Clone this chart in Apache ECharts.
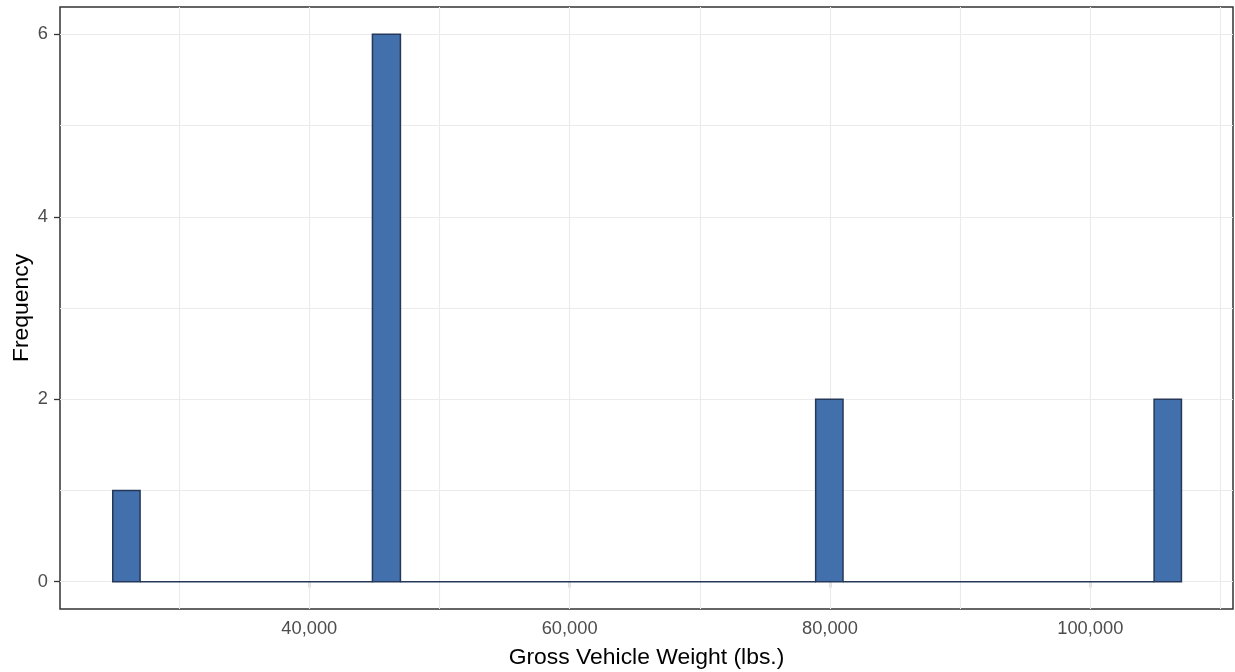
<!DOCTYPE html>
<html>
<head>
<meta charset="utf-8">
<script src="https://cdn.jsdelivr.net/npm/echarts@6/dist/echarts.min.js"></script>
<style>
  html, body { margin: 0; padding: 0; background: #ffffff; }
  #chart { width: 1235px; height: 672px; }
</style>
</head>
<body>
<div id="chart"></div>
<script>
// Histogram bins (lbs.) and frequencies
const binStart = [24900, 27000, 44850, 47000, 78900, 81000, 104900];
const binEnd   = [27000, 44850, 47000, 78900, 81000, 104900, 107000];
const counts   = [1, 0, 6, 0, 2, 0, 2];

// Tick labels and grid lines
const xTickValues = [40000, 60000, 80000, 100000];
const xGridValues = [30000, 40000, 50000, 60000, 70000, 80000, 90000, 100000, 110000];
const yTickValues = [0, 2, 4, 6];
const yGridValues = [0, 1, 2, 3, 4, 5, 6];

const xTitle = 'Gross Vehicle Weight (lbs.)';
const yTitle = 'Frequency';

const FONT = "'Liberation Sans', Arial, sans-serif";
const chart = echarts.init(document.getElementById('chart'), null, { renderer: 'canvas' });

const binData = binStart.map((s, i) => [s, binEnd[i], counts[i]]);
const fmt = v => v.toLocaleString('en-US');

const gridLines = [];
xGridValues.forEach(v => gridLines.push({ xAxis: v }));
yGridValues.forEach(v => gridLines.push({ yAxis: v }));

chart.setOption({
  animation: false,
  backgroundColor: '#ffffff',
  grid: {
    left: 60, right: 2, top: 7, bottom: 63,
    outerBoundsMode: 'none',
    containLabel: false,
    show: true, borderColor: '#333333', borderWidth: 1.5, backgroundColor: 'transparent'
  },
  xAxis: {
    type: 'value',
    min: 20848, max: 110961,
    name: xTitle,
    nameLocation: 'middle',
    nameGap: 37,
    nameMoveOverlap: false,
    nameTextStyle: { color: '#000000', fontSize: 22.9, fontFamily: FONT },
    axisLine: { show: false },
    axisTick: { show: true, length: 6, customValues: xTickValues, lineStyle: { color: '#333333', width: 1.3 } },
    axisLabel: { customValues: xTickValues, formatter: fmt, color: '#4D4D4D', fontSize: 18.3, fontFamily: FONT, margin: 11 },
    splitLine: { show: false }
  },
  yAxis: {
    type: 'value',
    min: -0.3, max: 6.3,
    name: yTitle,
    nameLocation: 'middle',
    nameGap: 27,
    nameMoveOverlap: false,
    nameTextStyle: { color: '#000000', fontSize: 22.9, fontFamily: FONT },
    axisLine: { show: false },
    axisTick: { show: true, length: 6, customValues: yTickValues, lineStyle: { color: '#333333', width: 1.3 } },
    axisLabel: { customValues: yTickValues, color: '#4D4D4D', fontSize: 18.3, fontFamily: FONT, margin: 12 },
    splitLine: { show: false }
  },
  series: [
    {
      type: 'line',
      data: [],
      z: 1,
      silent: true,
      markLine: {
        z: 1,
        silent: true,
        symbol: ['none', 'none'],
        label: { show: false },
        lineStyle: { color: '#EBEBEB', width: 1.1, type: 'solid' },
        emphasis: { disabled: true },
        animation: false,
        data: gridLines
      }
    },
    {
      type: 'custom',
      z: 10,
      data: binData,
      renderItem: function (params, api) {
        const p0 = api.coord([api.value(0), api.value(2)]);
        const p1 = api.coord([api.value(1), 0]);
        return {
          type: 'rect',
          shape: { x: p0[0], y: p0[1], width: p1[0] - p0[0], height: p1[1] - p0[1] },
          style: { fill: '#4270AC', stroke: '#25385A', lineWidth: 1.5 }
        };
      }
    }
  ]
});
</script>
</body>
</html>
